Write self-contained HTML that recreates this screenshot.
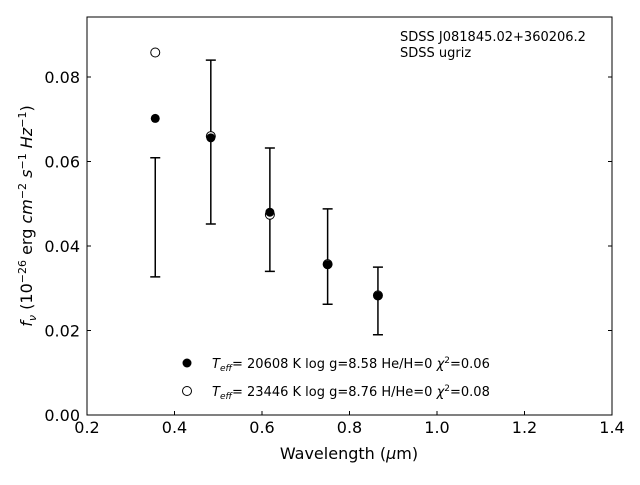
<!DOCTYPE html>
<html><head><meta charset="utf-8"><style>
body{margin:0;background:#fff;}
text{font-family:"DejaVu Sans","Liberation Sans",sans-serif;}
</style></head><body>
<svg id="chart" width="640" height="480" xmlns="http://www.w3.org/2000/svg">
<rect x="0" y="0" width="640" height="480" fill="#fff"/>
<g id="plot"></g>
<rect x="87" y="17" width="525" height="398" fill="none" stroke="#000" stroke-width="1"/>
<text x="400" y="41" font-size="13">SDSS J081845.02+360206.2</text>
<text x="400" y="57" font-size="13">SDSS ugriz</text>
<text x="349" y="459" font-size="16" text-anchor="middle">Wavelength (<tspan font-style="italic">μ</tspan>m)</text>
<text transform="translate(32,216) rotate(-90)" font-size="16" text-anchor="middle"><tspan font-style="italic">f</tspan><tspan font-style="italic" font-size="11" dy="4">ν</tspan><tspan dy="-4"> (10</tspan><tspan font-size="11" dy="-6">−26</tspan><tspan dy="6"> erg </tspan><tspan font-style="italic">cm</tspan><tspan font-size="11" dy="-6">−2</tspan><tspan dy="6"> </tspan><tspan font-style="italic">s</tspan><tspan font-size="11" dy="-6">−1</tspan><tspan dy="6"> </tspan><tspan font-style="italic">Hz</tspan><tspan font-size="11" dy="-6">−1</tspan><tspan dy="6">)</tspan></text>
<g>
<circle cx="187" cy="363" r="4.5" fill="#000"/>
<text x="212" y="368" font-size="13"><tspan font-style="italic">T</tspan><tspan font-style="italic" font-size="9" dy="3">eff</tspan><tspan dy="-3">= 20608 K  log g=8.58  He/H=0  </tspan><tspan font-style="italic">χ</tspan><tspan font-size="9" dy="-5">2</tspan><tspan dy="5">=0.06</tspan></text>
<circle cx="187" cy="391" r="4.5" fill="#fff" stroke="#000"/>
<text x="212" y="396" font-size="13"><tspan font-style="italic">T</tspan><tspan font-style="italic" font-size="9" dy="3">eff</tspan><tspan dy="-3">= 23446 K  log g=8.76  H/He=0  </tspan><tspan font-style="italic">χ</tspan><tspan font-size="9" dy="-5">2</tspan><tspan dy="5">=0.08</tspan></text>
</g>
</svg>
<script>
const wavelengths=[0.356,0.483,0.618,0.750,0.865];
const obsFlux=[0.0468,0.0646,0.0486,0.0375,0.0270];
const obsErr=[0.0141,0.0194,0.0146,0.0113,0.0080];
const modelHFlux=[0.0702,0.0656,0.0480,0.0356,0.0282];
const modelHeFlux=[0.0858,0.0660,0.0474,0.0357,0.0283];
const xTicks=[0.2,0.4,0.6,0.8,1.0,1.2,1.4];
const yTicks=[0.00,0.02,0.04,0.06,0.08];
const xs=v=>87+(v-0.2)*437.5;
const ys=v=>415-v*4225;
const NS='http://www.w3.org/2000/svg';
const g=document.getElementById('plot');
function mk(t,a){const e=document.createElementNS(NS,t);for(const k in a)e.setAttribute(k,a[k]);g.appendChild(e);return e;}
xTicks.forEach(t=>{
 const l=mk('line',{x1:xs(t),x2:xs(t),y1:415,y2:411,stroke:'#000'});
 
 
 const tx=mk('text',{x:xs(t),y:433,'font-size':16,'text-anchor':'middle'});
 tx.textContent=t.toFixed(1);
 
 
});
yTicks.forEach(t=>{
 const l=mk('line',{x1:87,x2:91,y1:ys(t),y2:ys(t),stroke:'#000'});
 
 
 const l2=mk('line',{x1:608,x2:612,y1:ys(t),y2:ys(t),stroke:'#000'});
 
 
 const tx=mk('text',{x:80,y:ys(t)+6,'font-size':16,'text-anchor':'end'});
 tx.textContent=t.toFixed(2);
 
 
});
wavelengths.forEach((w,i)=>{
 const x=xs(w),y1=ys(obsFlux[i]+obsErr[i]),y2=ys(obsFlux[i]-obsErr[i]);
 const eb=mk('path',{d:`M${x},${y1}V${y2}M${x-5},${y1}H${x+5}M${x-5},${y2}H${x+5}`,stroke:'#000','stroke-width':1.5,fill:'none'});
 
 
});
wavelengths.forEach((w,i)=>{
 const c=mk('circle',{cx:xs(w),cy:ys(modelHeFlux[i]),r:4.5,fill:'#fff',stroke:'#000'});
 
 
 const d=mk('circle',{cx:xs(w),cy:ys(modelHFlux[i]),r:4.5,fill:'#000'});
 
 
});
</script>
</body></html>
